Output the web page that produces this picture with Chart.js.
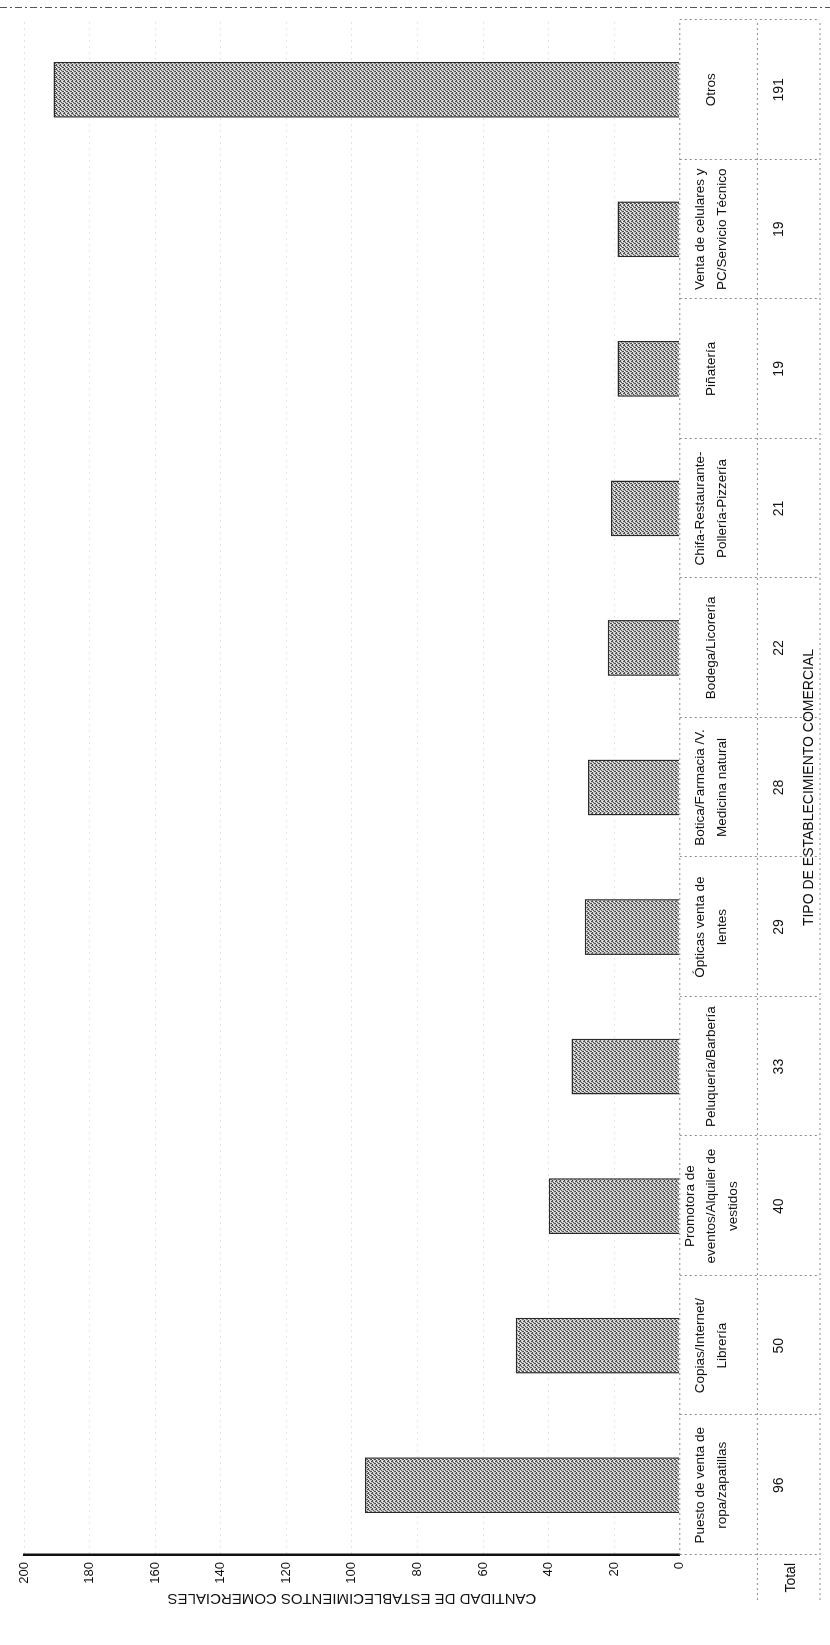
<!DOCTYPE html>
<html>
<head>
<meta charset="utf-8">
<script src="https://cdn.jsdelivr.net/npm/chart.js@4.4.1/dist/chart.umd.min.js"></script>
<style>
  html, body { margin: 0; padding: 0; background: #fff; overflow: hidden; }
  /* the scanned chart is lying on its side: draw it upright, then turn it */
  #wrap {
    position: absolute; left: 0; top: 0;
    width: 1645px; height: 830px;
    transform-origin: 0 0;
    transform: translate(0, 1645px) rotate(-90deg);
  }
</style>
</head>
<body>
<div id="wrap"><canvas id="container"></canvas></div>
<script>
const CATEGORIES = [
  ["Puesto de venta de", "ropa/zapatillas"],
  ["Copias/Internet/", "Librería"],
  ["Promotora de", "eventos/Alquiler de", "vestidos"],
  ["Peluquería/Barbería"],
  ["Ópticas venta de", "lentes"],
  ["Botica/Farmacia /V.", "Medicina natural"],
  ["Bodega/Licorería"],
  ["Chifa-Restaurante-", "Pollería-Pizzería"],
  ["Piñatería"],
  ["Venta de celulares y", "PC/Servicio Técnico"],
  ["Otros"],
];

const TOTALS = [96, 50, 40, 33, 29, 28, 22, 21, 19, 19, 191];

const Y_MIN = 0;
const Y_MAX = 200;
const Y_STEP = 20;

const Y_TITLE = "CANTIDAD DE ESTABLECIMIENTOS COMERCIALES";
const X_TITLE = "TIPO DE ESTABLECIMIENTO COMERCIAL";
const ROW_TITLE = "Total";

const FONT = "'Liberation Sans Narrow', 'Liberation Sans', Arial, sans-serif";

// grainy grey like the printed bars
const make_pattern = () => {
  const c = document.createElement("canvas");
  c.width = 4;
  c.height = 4;
  const g = c.getContext("2d");
  g.fillStyle = "#c9c9c9";
  g.fillRect(0, 0, 4, 4);
  g.fillStyle = "#505050";
  [[0, 0], [2, 1], [1, 2], [3, 3], [3, 0], [1, 3]].forEach(([px, py]) => {
    g.fillRect(px, py, 1, 1);
  });
  g.fillStyle = "#f4f4f4";
  [[1, 0], [3, 2]].forEach(([px, py]) => g.fillRect(px, py, 1, 1));
  return g.createPattern(c, "repeat");
};

// dotted table under the plot, "Total" row caption, frame line
const tablePlugin = {
  id: "table",
  afterDraw(chart) {
    const { ctx, chartArea: area } = chart;
    const x = chart.scales.x;
    const x2 = chart.scales.x2;
    ctx.save();
    ctx.strokeStyle = "#8a8a8a";
    ctx.lineWidth = 1;
    ctx.setLineDash([2, 3]);
    ctx.beginPath();
    for (let i = 0; i <= CATEGORIES.length; i++) {
      const px = Math.round(x.getPixelForValue(i - 0.5)) + 0.5;
      ctx.moveTo(px, area.bottom);
      ctx.lineTo(px, x2.bottom);
    }
    ctx.moveTo(area.left - 45, x.bottom);
    ctx.lineTo(area.right, x.bottom);
    ctx.moveTo(area.left - 45, x2.bottom);
    ctx.lineTo(area.right, x2.bottom);
    ctx.moveTo(area.left, area.bottom);
    ctx.lineTo(area.right, area.bottom);
    ctx.stroke();

    ctx.strokeStyle = "#555";
    ctx.setLineDash([7, 3, 2, 3]);
    ctx.beginPath();
    ctx.moveTo(chart.width - 7.5, 0);
    ctx.lineTo(chart.width - 7.5, chart.height);
    ctx.stroke();

    ctx.setLineDash([]);
    ctx.fillStyle = "#111";
    ctx.font = "14px " + FONT;
    ctx.textAlign = "right";
    ctx.textBaseline = "middle";
    ctx.fillText(ROW_TITLE, area.left - 8, (x.bottom + x2.bottom) / 2 + 2);
    ctx.restore();
  },
};

function chart_init() {
  const data = {
    labels: CATEGORIES,
    datasets: [
      {
        data: TOTALS,
        backgroundColor: make_pattern(),
        borderColor: "#2a2a2a",
        borderWidth: 1.5,
        categoryPercentage: 1,
        barPercentage: 0.4,
      },
    ],
  };

  new Chart(document.getElementById("container"), {
    type: "bar",
    data: data,
    plugins: [tablePlugin],
    options: {
      responsive: true,
      maintainAspectRatio: false,
      animation: false,
      layout: { padding: { left: 32, right: 20, top: 24, bottom: 10 } },
      plugins: {
        legend: { display: false },
        tooltip: { enabled: false },
      },
      scales: {
        x: {
          type: "category",
          grid: { display: false },
          border: { display: false },
          ticks: {
            color: "#111",
            font: { family: FONT, size: 13.5, lineHeight: 1.62 },
            padding: 2,
            crossAlign: "center",
            maxRotation: 0,
            autoSkip: false,
          },
        },
        x2: {
          type: "category",
          position: "bottom",
          weight: 1,
          labels: TOTALS.map(String),
          offset: true,
          grid: { display: false },
          border: { display: false },
          ticks: {
            color: "#111",
            font: { family: FONT, size: 14, lineHeight: 1.2 },
            padding: 5,
            maxRotation: 0,
            autoSkip: false,
          },
          title: {
            display: true,
            text: X_TITLE,
            color: "#111",
            font: { family: FONT, size: 14, lineHeight: 1.2 },
            padding: { top: 9, bottom: 2 },
          },
        },
        y: {
          min: Y_MIN,
          max: Y_MAX,
          afterFit: (scale) => {
            scale.width = 58;
          },
          ticks: {
            stepSize: Y_STEP,
            color: "#111",
            font: { family: FONT, size: 13 },
            padding: 7,
          },
          grid: {
            drawTicks: false,
            color: (c) => (c.tick && c.tick.value === 0 ? "rgba(0,0,0,0)" : "#c8c8c8"),
          },
          border: { display: true, color: "#111", width: 2.5, dash: [1, 5] },
          title: {
            display: true,
            text: Y_TITLE,
            color: "#111",
            font: { family: FONT, size: 15 },
            padding: { top: 6, bottom: 2 },
          },
        },
      },
    },
  });
}

chart_init();
</script>
</body>
</html>
